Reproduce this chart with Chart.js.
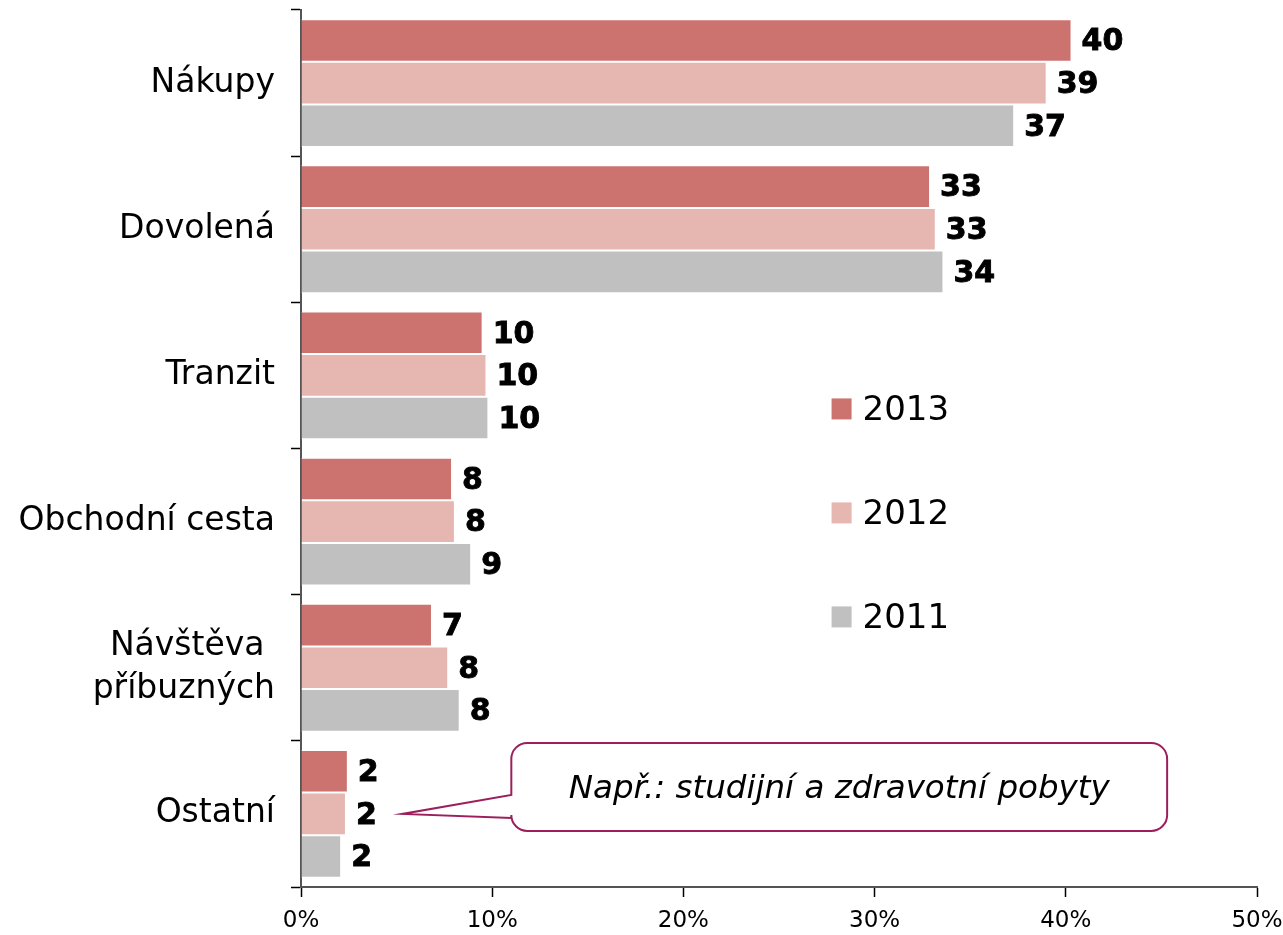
<!DOCTYPE html>
<html>
<head>
<meta charset="utf-8">
<script src="https://cdn.jsdelivr.net/npm/chart.js@4/dist/chart.umd.min.js"></script>
<style>
  html, body { margin: 0; padding: 0; background: #fff; }
  #wrap { width: 1283px; height: 935px; }
</style>
</head>
<body>
<div id="wrap"><canvas id="purposeChart"></canvas></div>
<script>
// data
const categories = ["Nákupy", "Dovolená", "Tranzit", "Obchodní cesta", ["Návštěva ", "příbuzných"], "Ostatní"];
const years = ["2013", "2012", "2011"];
const values2013 = [40.3, 32.9, 9.5, 7.9, 6.85, 2.45];
const values2012 = [39.0, 33.2, 9.7, 8.05, 7.7, 2.35];
const values2011 = [37.3, 33.6, 9.8, 8.9, 8.3, 2.1];
const labels2013 = [40, 33, 10, 8, 7, 2];
const labels2012 = [39, 33, 10, 8, 8, 2];
const labels2011 = [37, 34, 10, 9, 8, 2];
const xTicks = [0, 10, 20, 30, 40, 50];
const calloutText = "Např.: studijní a zdravotní pobyty";

const colors = ["#cc7370", "#e6b6b1", "#c0c0c0"];
const FONT = "'DejaVu Sans', Verdana, sans-serif";

// -------- value labels at bar ends ----------
const valueLabels = {
    id: "valueLabels",
    afterDatasetsDraw(chart) {
        const ctx = chart.ctx;
        ctx.save();
        ctx.font = "bold 30px " + FONT;
        ctx.fillStyle = "#000";
        ctx.strokeStyle = "#000";
        ctx.lineWidth = 0.9;
        ctx.textBaseline = "middle";
        ctx.textAlign = "left";
        chart.data.datasets.forEach((ds, i) => {
            chart.getDatasetMeta(i).data.forEach((bar, j) => {
                const txt = String(ds.valueLabels[j]);
                ctx.fillText(txt, bar.x + 10, bar.y + 2);
                ctx.strokeText(txt, bar.x + 10, bar.y + 2);
            });
        });
        ctx.restore();
    }
};

// -------- legend inside the plot ----------
const innerLegend = {
    id: "innerLegend",
    afterDraw(chart) {
        const ctx = chart.ctx;
        const x = chart.scales.x.getPixelForValue(27.75);
        const yTop = chart.scales.y.getPixelForValue(2) + 33;
        ctx.save();
        ctx.font = "34px " + FONT;
        ctx.textBaseline = "middle";
        chart.data.datasets.forEach((ds, i) => {
            const y = yTop + i * 104;
            ctx.fillStyle = ds.backgroundColor;
            ctx.fillRect(x, y - 10, 20, 21);
            ctx.fillStyle = "#000";
            ctx.fillText(ds.label, x + 31, y + 3);
        });
        ctx.restore();
    }
};

// -------- callout for "Ostatní" ----------
const callout = {
    id: "callout",
    afterDraw(chart) {
        const ctx = chart.ctx;
        const xs = chart.scales.x, ys = chart.scales.y;
        const cy = ys.getPixelForValue(5);
        const tipX = xs.getPixelForValue(5.3);
        const left = xs.getPixelForValue(11.0);
        const right = xs.getPixelForValue(45.3);
        const top = cy - 71, bottom = cy + 17, r = 16;
        ctx.save();
        ctx.strokeStyle = "#9c1f5c";
        ctx.lineWidth = 2;
        ctx.fillStyle = "#fff";
        ctx.beginPath();
        ctx.moveTo(left + r, top);
        ctx.lineTo(right - r, top);
        ctx.arcTo(right, top, right, top + r, r);
        ctx.lineTo(right, bottom - r);
        ctx.arcTo(right, bottom, right - r, bottom, r);
        ctx.lineTo(left + r, bottom);
        ctx.arcTo(left, bottom, left, bottom - r, r);
        ctx.lineTo(left, cy + 4);
        ctx.lineTo(tipX, cy);
        ctx.lineTo(left, cy - 19);
        ctx.lineTo(left, top + r);
        ctx.arcTo(left, top, left + r, top, r);
        ctx.closePath();
        ctx.fill();
        ctx.stroke();
        ctx.fillStyle = "#000";
        ctx.font = "italic 32.5px " + FONT;
        ctx.textAlign = "center";
        ctx.textBaseline = "middle";
        ctx.fillText(calloutText, (left + right) / 2, (top + bottom) / 2 + 3);
        ctx.restore();
    }
};

const seriesValues = [values2013, values2012, values2011];
const seriesLabels = [labels2013, labels2012, labels2011];

new Chart(document.getElementById("purposeChart"), {
    type: "bar",
    data: {
        labels: categories,
        datasets: years.map((y, i) => ({
            label: y,
            data: seriesValues[i],
            valueLabels: seriesLabels[i],
            backgroundColor: colors[i],
            borderColor: "#ffffff",
            borderWidth: 1,
            borderSkipped: "start",
            barPercentage: 1.0,
            categoryPercentage: 0.875
        }))
    },
    options: {
        indexAxis: "y",
        responsive: true,
        maintainAspectRatio: false,
        animation: false,
        layout: { padding: { top: 10, right: 26, left: 0, bottom: 0 } },
        plugins: {
            legend: { display: false },
            tooltip: { enabled: false }
        },
        scales: {
            x: {
                min: 0,
                max: 50,
                afterBuildTicks(scale) {
                    scale.ticks = xTicks.map(v => ({ value: v }));
                },
                afterFit(scale) {
                    scale.height = 48;
                    scale.paddingLeft = 0;
                    scale.paddingRight = 0;
                },
                border: { display: true, color: "#555", width: 2 },
                grid: { drawOnChartArea: false, tickLength: 10, color: "#000", tickWidth: 1.5 },
                ticks: {
                    color: "#000",
                    padding: 10,
                    font: { family: FONT, size: 23 },
                    callback: v => v + "%"
                }
            },
            y: {
                afterFit(scale) {
                    scale.width = 301;
                    scale.paddingTop = 0;
                    scale.paddingBottom = 0;
                },
                border: { display: true, color: "#555", width: 2 },
                grid: { offset: true, drawOnChartArea: false, tickLength: 10, color: "#000", tickWidth: 1.5 },
                ticks: {
                    color: "#000",
                    padding: 16,
                    font: { family: FONT, size: 33, lineHeight: 1.3 }
                }
            }
        }
    },
    plugins: [valueLabels, innerLegend, callout]
});
</script>
</body>
</html>
